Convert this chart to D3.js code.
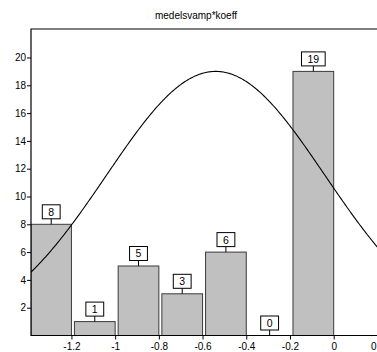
<!DOCTYPE html>
<html>
<head>
<meta charset="utf-8">
<script src="https://cdn.jsdelivr.net/npm/d3@7"></script>
<style>
  html, body { margin: 0; padding: 0; background: #fff; }
  svg { display: block; font-family: "Liberation Sans", Arial, sans-serif; }
</style>
</head>
<body>
<svg id="chart" width="377" height="352"></svg>
<script>
// Histogram bins and counts
const binStarts = [-1.4, -1.2, -1.0, -0.8, -0.6, -0.4, -0.2];
const binEnds   = [-1.2, -1.0, -0.8, -0.6, -0.4, -0.2, 0.0];
const counts    = [8, 1, 5, 3, 6, 0, 19];

const yTicks = [2, 4, 6, 8, 10, 12, 14, 16, 18, 20];
const xTicks = [-1.2, -1, -0.8, -0.6, -0.4, -0.2, 0, 0.2];

// Fitted normal curve parameters
const curveMean = -0.54;
const curveSd = 0.5;
const curvePeak = 19;

const title = "medelsvamp*koeff";

const svg = d3.select("#chart");
const pLeft = 31, pRight = 377.4, pTop = 29, pBottom = 335.5;

const x = d3.scaleLinear().domain([-1.385, 0.2]).range([pLeft, pRight]);
const y = d3.scaleLinear().domain([0, 22.05]).range([pBottom, pTop]);

svg.append("defs").append("clipPath").attr("id", "plot")
  .append("rect").attr("x", pLeft).attr("y", pTop)
  .attr("width", pRight - pLeft).attr("height", pBottom - pTop);

// Title
svg.append("text").attr("x", 196).attr("y", 19)
  .attr("text-anchor", "middle").attr("font-size", 10).attr("fill", "#000")
  .text(title);

// Bars
const bins = counts.map((c, i) => ({ x0: binStarts[i], x1: binEnds[i], n: c }));
const barLeft = d => Math.max(pLeft, x(d.x0) + 3);
const plot = svg.append("g").attr("clip-path", "url(#plot)");
plot.selectAll("rect.bar").data(bins.filter(d => d.n > 0)).join("rect")
  .attr("class", "bar")
  .attr("x", barLeft)
  .attr("y", d => y(d.n))
  .attr("width", d => x(d.x1) - barLeft(d))
  .attr("height", d => y(0) - y(d.n))
  .attr("fill", "#c0c0c0")
  .attr("stroke", "#3a3a3a")
  .attr("stroke-width", 1);

// Normal curve
const curvePts = d3.range(-1.385, 0.2001, 0.005).map(v => [v,
  curvePeak * Math.exp(-0.5 * Math.pow((v - curveMean) / curveSd, 2))]);
plot.append("path").datum(curvePts)
  .attr("fill", "none").attr("stroke", "#000").attr("stroke-width", 1.1)
  .attr("d", d3.line().x(d => x(d[0])).y(d => y(d[1])));

// Frame: left, top, bottom
svg.append("path")
  .attr("d", `M${pRight},${pTop}H${pLeft}V${pBottom}H${pRight}`)
  .attr("fill", "none").attr("stroke", "#000").attr("stroke-width", 1.2);

// Y axis
const yAxis = d3.axisLeft(y).tickValues(yTicks).tickSize(4).tickPadding(1)
  .tickFormat(d3.format("d"));
const gy = svg.append("g").attr("transform", `translate(${pLeft},0)`).call(yAxis);
gy.select(".domain").remove();
gy.selectAll("text").attr("font-size", 10)
  .attr("font-family", "Liberation Sans, Arial, sans-serif").attr("fill", "#000");

// X axis
const xAxis = d3.axisBottom(x).tickValues(xTicks).tickSize(4).tickPadding(3)
  .tickFormat(d => String(+d.toFixed(1)));
const gx = svg.append("g").attr("transform", `translate(0,${pBottom})`).call(xAxis);
gx.select(".domain").remove();
gx.selectAll("text").attr("font-size", 10)
  .attr("font-family", "Liberation Sans, Arial, sans-serif").attr("fill", "#000");

// Value labels in boxes above bars
const lab = svg.append("g");
bins.forEach(d => {
  const cx = (barLeft(d) + x(d.x1)) / 2;
  const barTop = y(d.n);
  const g = lab.append("g");
  const t = g.append("text").attr("x", cx).attr("y", barTop - 8.5)
    .attr("text-anchor", "middle").attr("font-size", 10.5).attr("fill", "#000")
    .text(d.n);
  const w = t.node().getComputedTextLength() + 12;
  g.insert("rect", "text").attr("x", cx - w / 2).attr("y", barTop - 19.5)
    .attr("width", w).attr("height", 14)
    .attr("fill", "#fff").attr("stroke", "#000").attr("stroke-width", 1);
  g.append("line").attr("x1", cx).attr("x2", cx)
    .attr("y1", barTop - 5.5).attr("y2", barTop)
    .attr("stroke", "#000").attr("stroke-width", 1);
});
</script>
</body>
</html>
